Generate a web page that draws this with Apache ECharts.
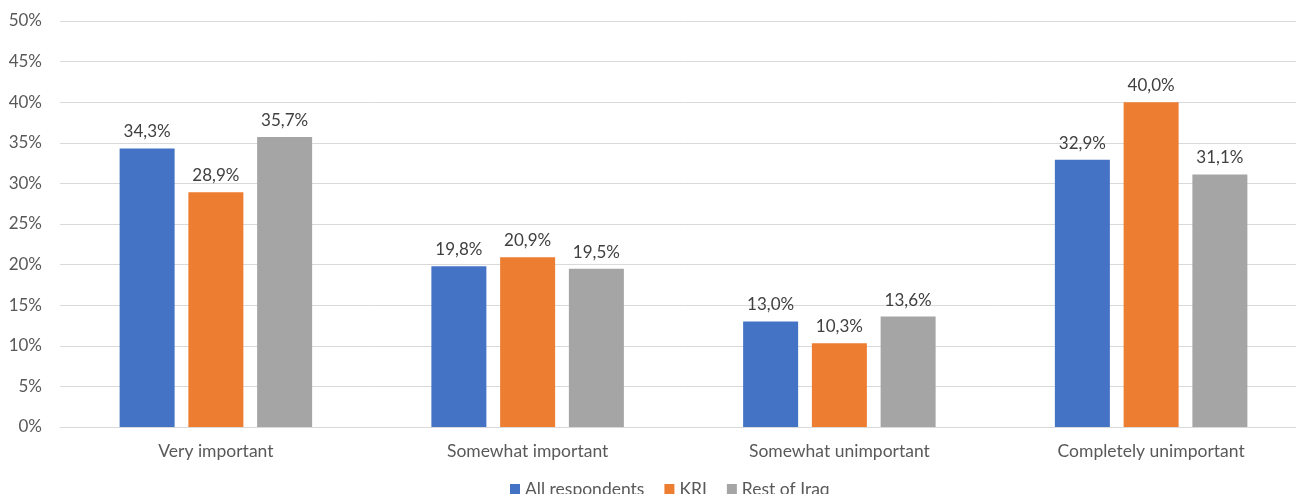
<!DOCTYPE html>
<html>
<head>
<meta charset="utf-8">
<script src="https://cdn.jsdelivr.net/npm/echarts@6/dist/echarts.min.js"></script>
<style>
  html, body { margin: 0; padding: 0; background: #fff; overflow: hidden; }
  #chart { width: 1307px; height: 494px; }
</style>
</head>
<body>
<div id="chart"></div>
<script>
// Importance ratings by respondent group (percent)
const categories = ['Very important', 'Somewhat important', 'Somewhat unimportant', 'Completely unimportant'];
const allRespondents = [34.3, 19.8, 13.0, 32.9];
const kri = [28.9, 20.9, 10.3, 40.0];
const restOfIraq = [35.7, 19.5, 13.6, 31.1];
const seriesNames = ['All respondents', 'KRI', 'Rest of Iraq'];
const seriesColors = ['#4472c4', '#ed7d31', '#a5a5a5'];

const FONT = 'Lato, "Open Sans", sans-serif';
const fmt = v => v.toFixed(1).replace('.', ',') + '%';

const chart = echarts.init(document.getElementById('chart'), null, { renderer: 'canvas' });

const makeSeries = (name, data, color) => ({
  name: name,
  type: 'bar',
  data: data,
  barWidth: 55,
  barGap: '25%',
  itemStyle: { color: color },
  label: {
    show: true,
    position: 'top',
    distance: 8,
    color: '#404040',
    fontFamily: FONT,
    fontSize: 17,
    formatter: p => fmt(p.value)
  }
});

chart.setOption({
  animation: false,
  textStyle: { fontFamily: FONT },
  grid: { left: 60, top: 21, width: 1247, height: 406, containLabel: false },
  legend: {
    data: seriesNames,
    top: 475,
    left: 505,
    itemWidth: 10,
    itemHeight: 10,
    itemGap: 20,
    icon: 'rect',
    textStyle: { color: '#595959', fontSize: 17.5, fontFamily: FONT, padding: [0, 0, 0, 0] }
  },
  xAxis: {
    type: 'category',
    data: categories,
    axisTick: { show: false },
    axisLine: { lineStyle: { color: '#d9d9d9', width: 1 } },
    axisLabel: { color: '#595959', fontSize: 17.5, fontFamily: FONT, margin: 15 }
  },
  yAxis: {
    type: 'value',
    min: 0,
    max: 50,
    interval: 5,
    axisLine: { show: false },
    axisTick: { show: false },
    splitLine: { lineStyle: { color: '#d9d9d9', width: 1 } },
    axisLabel: { color: '#595959', fontSize: 17, fontFamily: FONT, margin: 18, formatter: '{value}%' }
  },
  series: [
    makeSeries(seriesNames[0], allRespondents, seriesColors[0]),
    makeSeries(seriesNames[1], kri, seriesColors[1]),
    makeSeries(seriesNames[2], restOfIraq, seriesColors[2])
  ]
});
</script>
</body>
</html>
